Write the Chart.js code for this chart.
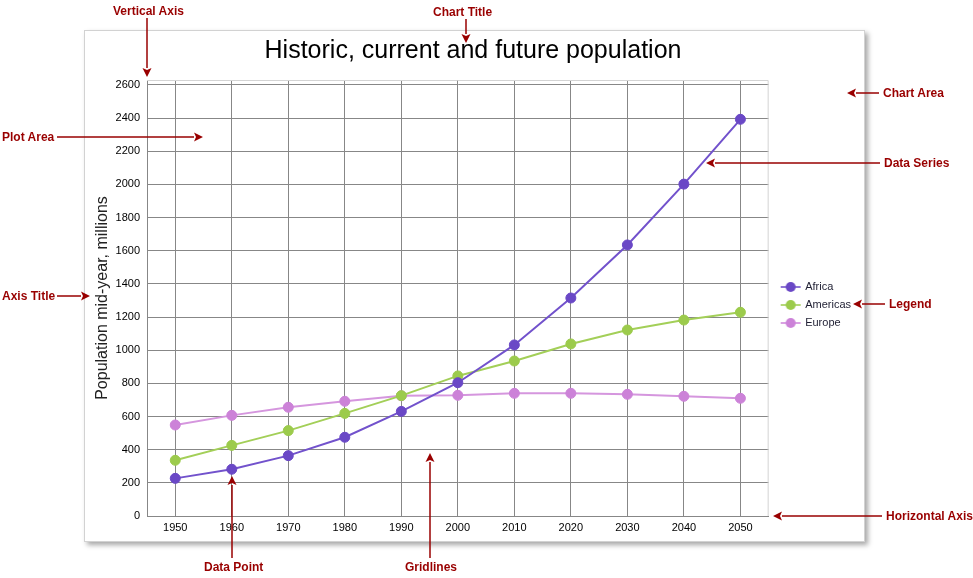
<!DOCTYPE html>
<html>
<head>
<meta charset="utf-8">
<script src="https://cdn.jsdelivr.net/npm/chart.js@4"></script>
<style>
    html, body { margin: 0; padding: 0; background: #ffffff; }
    body { width: 973px; height: 578px; position: relative; overflow: hidden; }
    #chartBox {
        position: absolute; left: 84px; top: 30px;
        width: 779px; height: 510px;
        border: 1px solid #d2d2d2;
        background: #ffffff;
        box-shadow: 3px 3px 5px rgba(0, 0, 0, 0.35);
    }
    #chart { display: block; }
    #notes { position: absolute; left: 0; top: 0; pointer-events: none; }
    #notes text { font-family: "Liberation Sans", Arial, sans-serif; font-weight: bold; font-size: 12px; fill: #990000; }
</style>
</head>
<body>
<div id="chartBox"><canvas id="chart" width="779" height="510"></canvas></div>
<svg id="notes" width="973" height="578"></svg>
<script>
const years = ['1950', '1960', '1970', '1980', '1990', '2000', '2010', '2020', '2030', '2040', '2050'];
const africa = [227, 282, 364, 475, 631, 804, 1032, 1315, 1635, 2002, 2393];
const americas = [336, 426, 515, 619, 726, 845, 935, 1038, 1122, 1182, 1229];
const europe = [549, 607, 656, 692, 725, 728, 740, 740, 734, 722, 710];
const yTicks = [0, 200, 400, 600, 800, 1000, 1200, 1400, 1600, 1800, 2000, 2200, 2400, 2600];
const seriesNames = ['Africa', 'Americas', 'Europe'];
const pointColors = ['#6a48c6', '#9ccb4c', '#cc82d8'];
const lineColors = ['#7252cc', '#a3cf58', '#d596de'];

const chartTitle = 'Historic, current and future population';
const axisTitle = 'Population mid-year, millions';

// annotation labels around the chart: text, text x, text y, arrow from, arrow to
const notes = [
    { text: 'Vertical Axis',   tx: 113, ty: 15,  from: [147, 18],  to: [147, 77] },
    { text: 'Chart Title',     tx: 433, ty: 16,  from: [466, 19],  to: [466, 43] },
    { text: 'Plot Area',       tx: 2,   ty: 141, from: [57, 137],  to: [203, 137] },
    { text: 'Axis Title',      tx: 2,   ty: 300, from: [57, 296],  to: [90, 296] },
    { text: 'Chart Area',      tx: 883, ty: 97,  from: [879, 93],  to: [847, 93] },
    { text: 'Data Series',     tx: 884, ty: 167, from: [880, 163], to: [706, 163] },
    { text: 'Legend',          tx: 889, ty: 308, from: [885, 304], to: [853, 304] },
    { text: 'Horizontal Axis', tx: 886, ty: 520, from: [882, 516], to: [773, 516] },
    { text: 'Data Point',      tx: 204, ty: 571, from: [232, 558], to: [232, 476] },
    { text: 'Gridlines',       tx: 405, ty: 571, from: [430, 558], to: [430, 453] }
];

function drawNotes() {
    const ns = 'http://www.w3.org/2000/svg';
    const svg = document.getElementById('notes');
    notes.forEach(n => {
        const [x1, y1] = n.from;
        const [x2, y2] = n.to;
        const len = Math.hypot(x2 - x1, y2 - y1);
        const ux = (x2 - x1) / len, uy = (y2 - y1) / len;
        const bx = x2 - ux * 9, by = y2 - uy * 9;
        const line = document.createElementNS(ns, 'line');
        line.setAttribute('x1', x1); line.setAttribute('y1', y1);
        line.setAttribute('x2', bx); line.setAttribute('y2', by);
        line.setAttribute('stroke', '#990000');
        line.setAttribute('stroke-width', '1.5');
        svg.appendChild(line);
        const head = document.createElementNS(ns, 'polygon');
        const pts = [
            [bx - uy * 4.5, by + ux * 4.5],
            [bx + ux * 2, by + uy * 2],
            [bx + uy * 4.5, by - ux * 4.5],
            [x2, y2]
        ];
        head.setAttribute('points', pts.map(p => p.join(',')).join(' '));
        head.setAttribute('fill', '#990000');
        svg.appendChild(head);
        const t = document.createElementNS(ns, 'text');
        t.setAttribute('x', n.tx); t.setAttribute('y', n.ty);
        t.textContent = n.text;
        svg.appendChild(t);
    });
}

// small line + dot marker for the legend
function legendMarker(color) {
    const c = document.createElement('canvas');
    c.width = 32; c.height = 12;
    const g = c.getContext('2d');
    g.strokeStyle = color;
    g.lineWidth = 1.5;
    g.beginPath(); g.moveTo(9, 6); g.lineTo(29, 6); g.stroke();
    g.fillStyle = color;
    g.beginPath(); g.arc(19, 6, 5, 0, Math.PI * 2); g.fill();
    return c;
}
const markers = pointColors.map(legendMarker);

const plotFrame = {
    id: 'plotFrame',
    beforeDatasetsDraw(chart) {
        const { ctx, chartArea: a } = chart;
        ctx.save();
        ctx.strokeStyle = '#d4d4d4';
        ctx.lineWidth = 1;
        ctx.beginPath();
        ctx.moveTo(a.left, a.top + 0.5);
        ctx.lineTo(a.right - 0.5, a.top + 0.5);
        ctx.lineTo(a.right - 0.5, a.bottom);
        ctx.stroke();
        ctx.restore();
    }
};

const fontFamily = '"Liberation Sans", Arial, sans-serif';
Chart.defaults.font.family = fontFamily;
Chart.defaults.color = '#000000';

const datasets = [africa, americas, europe].map((values, i) => ({
    label: seriesNames[i],
    data: values,
    borderColor: lineColors[i],
    backgroundColor: pointColors[i],
    pointBackgroundColor: pointColors[i],
    pointBorderColor: pointColors[i],
    borderWidth: 2,
    pointRadius: 5,
    pointBorderWidth: 1,
    tension: 0,
    fill: false
}));

new Chart(document.getElementById('chart'), {
    type: 'line',
    data: { labels: years, datasets: datasets },
    plugins: [plotFrame],
    options: {
        responsive: false,
        animation: false,
        events: [],
        layout: { padding: { left: 0, right: 3, top: 0, bottom: 0 } },
        plugins: {
            title: {
                display: true,
                text: chartTitle,
                color: '#000000',
                font: { size: 25, weight: 'normal', family: fontFamily, lineHeight: 1.2 },
                padding: { top: 5, bottom: 14 }
            },
            legend: {
                position: 'right',
                fullSize: false,
                title: { display: true, text: '', padding: 0, font: { size: 14, lineHeight: 1 } },
                labels: {
                    usePointStyle: true,
                    pointStyleWidth: 24,
                    padding: 7,
                    color: '#1e1e32',
                    font: { size: 11 },
                    generateLabels(chart) {
                        const items = Chart.defaults.plugins.legend.labels.generateLabels(chart);
                        items.forEach((it, i) => { it.pointStyle = markers[i]; });
                        return items;
                    }
                }
            },
            tooltip: { enabled: false }
        },
        scales: {
            x: {
                offset: true,
                afterFit(scale) { scale.height = 25; },
                grid: { offset: false, color: '#878787', drawTicks: false },
                border: { color: '#878787' },
                ticks: { padding: 5, font: { size: 11 }, color: '#000000', maxRotation: 0, autoSkip: false }
            },
            y: {
                min: 0,
                max: 2630,
                afterFit(scale) { scale.width = 62; },
                afterBuildTicks(scale) { scale.ticks = yTicks.map(v => ({ value: v })); },
                grid: { color: '#878787', drawTicks: false },
                border: { color: '#878787' },
                ticks: { padding: 7, font: { size: 11 }, color: '#000000', callback: v => String(v) },
                title: {
                    display: true,
                    text: axisTitle,
                    color: '#222222',
                    font: { size: 16, family: fontFamily },
                    padding: { top: 8, bottom: 0 }
                }
            }
        }
    }
});

drawNotes();
</script>
</body>
</html>
